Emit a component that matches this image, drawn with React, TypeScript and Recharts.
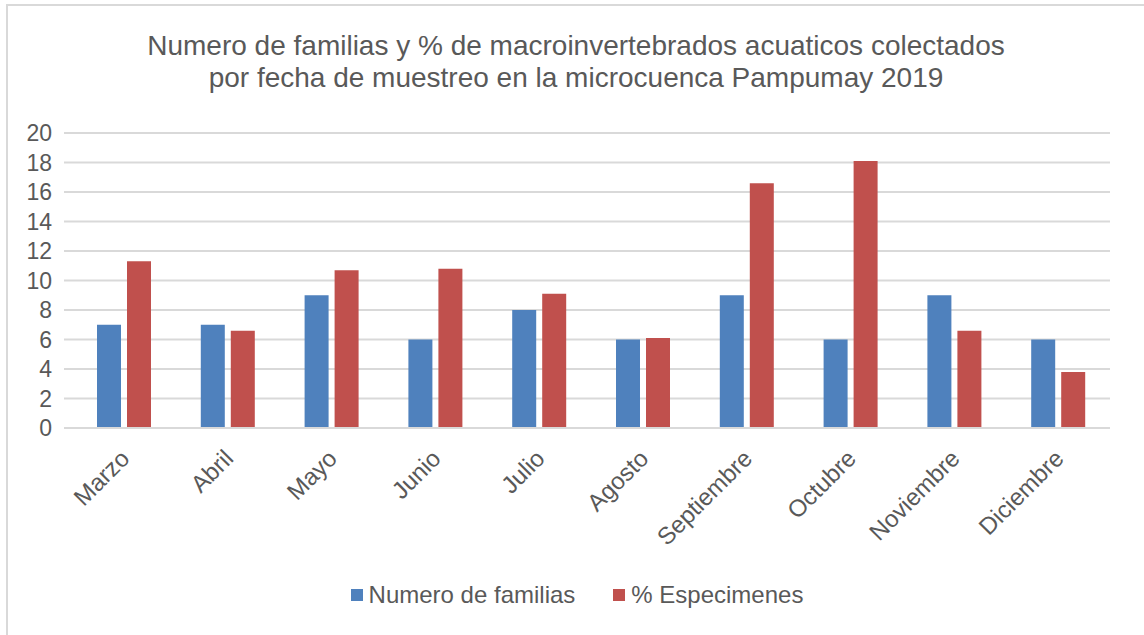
import { Bar, BarChart, CartesianGrid, Legend, XAxis, YAxis } from "recharts";

const MONTHS = [
  "Marzo",
  "Abril",
  "Mayo",
  "Junio",
  "Julio",
  "Agosto",
  "Septiembre",
  "Octubre",
  "Noviembre",
  "Diciembre",
];
const FAMILIAS = [7, 7, 9, 6, 8, 6, 9, 6, 9, 6];
const ESPECIMENES = [11.3, 6.6, 10.7, 10.8, 9.1, 6.1, 16.6, 18.1, 6.6, 3.8];
const Y_TICKS = [0, 2, 4, 6, 8, 10, 12, 14, 16, 18, 20];

const BLUE = "#4f81bd";
const RED = "#c0504d";
const TEXT = "#595959";
const GRID = "#d9d9d9";
const FONT = "'Liberation Sans', Arial, sans-serif";

const SERIES = [
  { key: "familias", name: "Numero de familias", color: BLUE },
  { key: "especimenes", name: "% Especimenes", color: RED },
];

const data = MONTHS.map((m, i) => ({
  month: m,
  familias: FAMILIAS[i],
  especimenes: ESPECIMENES[i],
}));

function MonthTick(props: any) {
  const { x, y, payload } = props;
  return (
    <g transform={`translate(${x + 7},${y + 24})`}>
      <text
        textAnchor="end"
        transform="rotate(-45)"
        fill={TEXT}
        fontSize={24}
        fontFamily={FONT}
      >
        {payload.value}
      </text>
    </g>
  );
}

function LegendBox() {
  return (
    <div
      style={{
        display: "flex",
        justifyContent: "center",
        gap: 38,
        paddingLeft: 34,
        fontSize: 24,
        fontFamily: FONT,
        color: TEXT,
      }}
    >
      {SERIES.map((s) => (
        <div key={s.key} style={{ display: "flex", alignItems: "center" }}>
          <span
            style={{
              display: "inline-block",
              width: 12,
              height: 12,
              background: s.color,
              marginRight: 6,
            }}
          />
          {s.name}
        </div>
      ))}
    </div>
  );
}

export default function App() {
  return (
    <div
      style={{
        position: "absolute",
        left: 0,
        top: 0,
        width: 1144,
        height: 635,
        background: "#fff",
        fontFamily: FONT,
        overflow: "hidden",
      }}
    >
      <div
        style={{
          position: "absolute",
          left: 6,
          top: 4,
          width: 1160,
          height: 660,
          border: `2px solid ${GRID}`,
          boxSizing: "border-box",
        }}
      />
      <div
        style={{
          position: "absolute",
          left: 0,
          top: 30,
          width: 1152,
          textAlign: "center",
          fontSize: 28,
          lineHeight: "32px",
          color: TEXT,
        }}
      >
        Numero de familias y % de macroinvertebrados acuaticos colectados
        <br />
        por fecha de muestreo en la microcuenca Pampumay 2019
      </div>
      <BarChart
        width={1144}
        height={635}
        data={data}
        margin={{ top: 133, right: 34, bottom: 0, left: 10 }}
        barGap={6}
        barSize={24}
        style={{ position: "absolute", left: 0, top: 0 }}
      >
        <CartesianGrid vertical={false} stroke={GRID} strokeWidth={2} />
        <XAxis
          dataKey="month"
          axisLine={{ stroke: GRID, strokeWidth: 2 }}
          tickLine={false}
          tick={<MonthTick />}
          interval={0}
          height={173}
        />
        <YAxis
          domain={[0, 20]}
          ticks={Y_TICKS}
          interval={0}
          axisLine={false}
          tickLine={{ stroke: GRID, strokeWidth: 2 }}
          tickSize={8}
          width={62}
          tickMargin={12}
          tick={{ fill: TEXT, fontSize: 23, fontFamily: FONT }}
        />
        <Legend
          verticalAlign="bottom"
          height={34}
          wrapperStyle={{ bottom: 20 }}
          content={<LegendBox />}
        />
        {SERIES.map((s) => (
          <Bar
            key={s.key}
            dataKey={s.key}
            name={s.name}
            fill={s.color}
            isAnimationActive={false}
          />
        ))}
      </BarChart>
    </div>
  );
}
